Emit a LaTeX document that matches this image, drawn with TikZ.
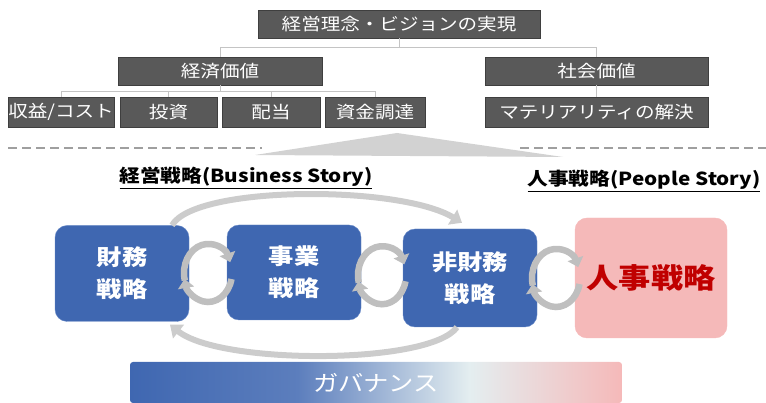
\documentclass[tikz,border=0pt]{standalone}
\usepackage{fontspec}
\setmainfont{Noto Sans CJK JP}[FakeStretch=1.15]
\usetikzlibrary{arrows.meta, positioning, calc}

\definecolor{boxgray}{HTML}{595959}
\definecolor{boxedge}{HTML}{3F3F3F}
\definecolor{linegray}{HTML}{C4C4C4}
\definecolor{stratblue}{HTML}{3F67B1}
\definecolor{stratedge}{HTML}{6A8BC8}
\definecolor{hrpink}{HTML}{F5B9B9}
\definecolor{hrred}{HTML}{C00000}
\definecolor{govwhite}{HTML}{E4EEF0}

\pgfdeclarehorizontalshading{govshade}{100bp}{color(0bp)=(stratblue); color(25bp)=(stratblue); color(42bp)=(stratblue!85!white); color(59.5bp)=(govwhite); color(75bp)=(hrpink); color(100bp)=(hrpink)}

\tikzset{
    graybox/.style={draw=boxedge, fill=boxgray, text=white, inner sep=0pt,
        font=\fontsize{17}{17}\selectfont, minimum height=28pt},
    conn/.style={draw=linegray, line width=1pt},
    dashline/.style={draw=gray!75, line width=1.5pt, dash pattern=on 9pt off 5pt},
    stratbox/.style={draw=stratedge, fill=stratblue, rounded corners=12pt, text=white,
        font=\bfseries\fontsize{22}{32}\selectfont, align=center,
        minimum width=134pt, minimum height=96pt, inner sep=0pt},
    cycarrow/.style={draw=gray!50, line width=6.5pt, -{Triangle[length=9pt,width=16pt]}},
    looparrow/.style={draw=gray!40, line width=6pt, -{Triangle[length=11pt,width=17pt]}}
}

\begin{document}
\begin{tikzpicture}[x=1pt,y=1pt]
        \useasboundingbox (0,0) rectangle (766,403);

        % Value tree
        \node[graybox, minimum width=282pt] (vision) at (399,379) {経営理念・ビジョンの実現};
        \node[graybox, minimum width=204pt] (econ) at (220,332) {経済価値};
        \node[graybox, minimum width=223pt] (social) at (596.5,332) {社会価値};
        \node[graybox, minimum width=102pt, minimum height=30pt] (rev) at (61,291) {収益/コスト};
        \node[graybox, minimum width=97pt, minimum height=30pt] (invest) at (168.5,291) {投資};
        \node[graybox, minimum width=98pt, minimum height=30pt] (divid) at (271,291) {配当};
        \node[graybox, minimum width=100pt, minimum height=30pt] (fund) at (375,291) {資金調達};
        \node[graybox, minimum width=223pt, minimum height=30pt] (matr) at (596.5,291) {マテリアリティの解決};

        \draw[conn] (vision.south) -- ++(0,-9.5) -| (econ.north);
        \draw[conn] (vision.south) -- ++(0,-9.5) -| (social.north);
        \foreach \n in {rev,invest,divid,fund}
            \draw[conn] (econ.south) -- ++(0,-6) -| (\n.north);
        \draw[conn] (social.south) -- (matr.north);

        % Dashed separator and wedge
        \draw[dashline] (8,255) -- (262,255);
        \draw[dashline] (520,255) -- (766,255);
        \fill[gray!35] (255,248) -- (397,270) -- (563,246) -- cycle;

        % Story titles
        \node[font=\bfseries\fontsize{18}{18}\selectfont] (bizstory) at (246,225) {\underline{経営戦略(Business Story)}};
        \node[font=\bfseries\fontsize{18}{18}\selectfont] (peoplestory) at (644,222) {\underline{人事戦略(People Story)}};

        % Strategy boxes
        \node[stratbox] (fin) at (122,129.5) {財務\\戦略};
        \node[stratbox, minimum height=95pt] (biz) at (294,130.5) {事業\\戦略};
        \node[stratbox, minimum height=98pt] (nonfin) at (470,125) {非財務\\戦略};
        \node[stratbox, fill=hrpink, draw=hrpink, text=hrred, font=\bfseries\fontsize{28}{28}\selectfont,
            minimum width=152pt, minimum height=120pt] (hr) at (651,125) {人事戦略};

        % Big loop
        \draw[looparrow] ([xshift=50pt]fin.north) .. controls (195,218) and (400,218) .. ([xshift=-8pt,yshift=6pt]nonfin.north);
        \draw[looparrow] ([xshift=-13pt]nonfin.south) .. controls (430,38) and (220,38) .. ([xshift=48pt,yshift=-3pt]fin.south);

        % Cycle arrows between boxes
        \foreach \a/\b in {fin/biz, biz/nonfin, nonfin/hr} {
            \coordinate (cyc-\a) at ($(\a.east)!0.5!(\b.west)$);
            \draw[cycarrow] ([shift={(195:24pt and 29pt)}]cyc-\a) arc[start angle=195, end angle=22, x radius=24pt, y radius=29pt];
            \draw[cycarrow] ([shift={(-12:24pt and 29pt)}]cyc-\a) arc[start angle=-12, end angle=-168, x radius=24pt, y radius=29pt];
        }

        % Governance bar
        \node[shading=govshade, rounded corners=3pt, minimum width=492pt, minimum height=41pt,
            text=white, font=\fontsize{22}{22}\selectfont] (gov) at (376,20.5) {ガバナンス};
\end{tikzpicture}
\end{document}
